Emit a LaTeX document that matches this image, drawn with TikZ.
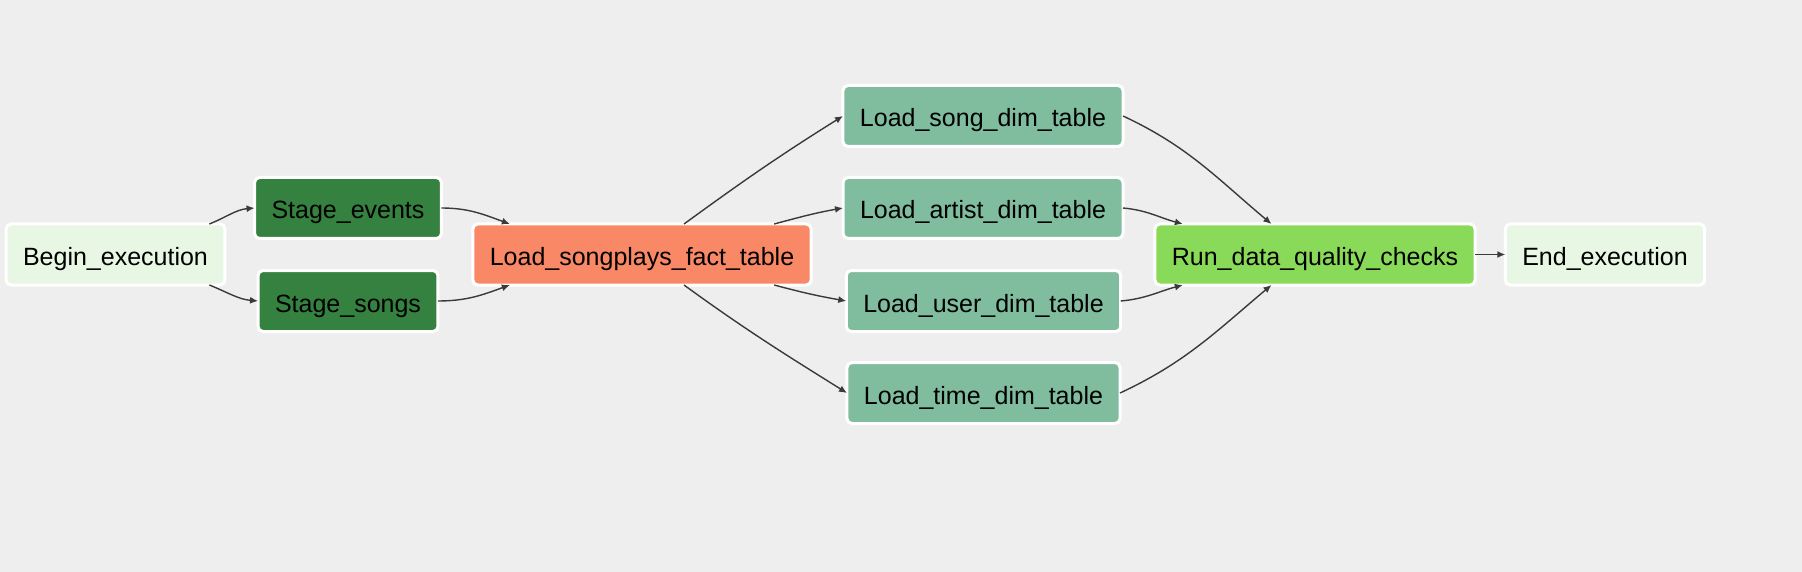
\documentclass[tikz,border=0pt]{standalone}
\usepackage{fontspec}
\setmainfont{Liberation Sans}
\usetikzlibrary{arrows.meta}
\definecolor{bgcol}{HTML}{EEEEEE}
\definecolor{dummycol}{HTML}{E8F7E4}
\definecolor{stagecol}{HTML}{358140}
\definecolor{factcol}{HTML}{F98866}
\definecolor{dimcol}{HTML}{80BD9E}
\definecolor{checkcol}{HTML}{89DA59}
\definecolor{edgecol}{HTML}{3A3A3A}
\begin{document}
\begin{tikzpicture}[x=1pt,y=-1pt,
  task/.style={draw=white,line width=3pt,rounded corners=5pt,inner xsep=17pt,inner ysep=0pt,
    text height=24pt,text depth=2pt,minimum height=61pt,outer sep=0pt,font=\fontsize{25}{30}\selectfont},
  edge/.style={edgecol,line width=1.4pt,-{Latex[length=8pt,width=7pt]}}]%sparkify dag
\fill[bgcol] (0,0) rectangle (1802,572);
\node[task,fill=dummycol] (begin) at (115.5,254.5) {Begin\_execution};
\node[task,fill=stagecol] (sevents) at (348,208) {Stage\_events};
\node[task,fill=stagecol] (ssongs) at (348,301) {Stage\_songs};
\node[task,fill=factcol] (fact) at (642,254.5) {Load\_songplays\_fact\_table};
\node[task,fill=dimcol] (song) at (983,116) {Load\_song\_dim\_table};
\node[task,fill=dimcol] (artist) at (983,208) {Load\_artist\_dim\_table};
\node[task,fill=dimcol] (user) at (983.5,301) {Load\_user\_dim\_table};
\node[task,fill=dimcol] (time) at (983.5,393) {Load\_time\_dim\_table};
\node[task,fill=checkcol] (run) at (1315,254.5) {Run\_data\_quality\_checks};
\node[task,fill=dummycol] (end) at (1605,254.5) {End\_execution};
\draw[edge] (begin.18) to[out=22,in=185] (sevents.west);
\draw[edge] (begin.-18) to[out=-22,in=175] (ssongs.west);
\draw[edge] (sevents.east) to[out=0,in=160] (fact.167);
\draw[edge] (ssongs.east) to[out=0,in=200] (fact.193);
\draw[edge] (fact.36) to[out=36,in=212] (song.west);
\draw[edge] (fact.13) to[out=15,in=190] (artist.west);
\draw[edge] (fact.-13) to[out=-15,in=170] (user.west);
\draw[edge] (fact.-36) to[out=-36,in=148] (time.west);
\draw[edge] (song.east) to[out=-25,in=140] (run.145);
\draw[edge] (artist.east) to[out=-5,in=165] (run.167);
\draw[edge] (user.east) to[out=5,in=195] (run.193);
\draw[edge] (time.east) to[out=25,in=220] (run.215);
\draw[edge] (run) -- (end);
\end{tikzpicture}
\end{document}
